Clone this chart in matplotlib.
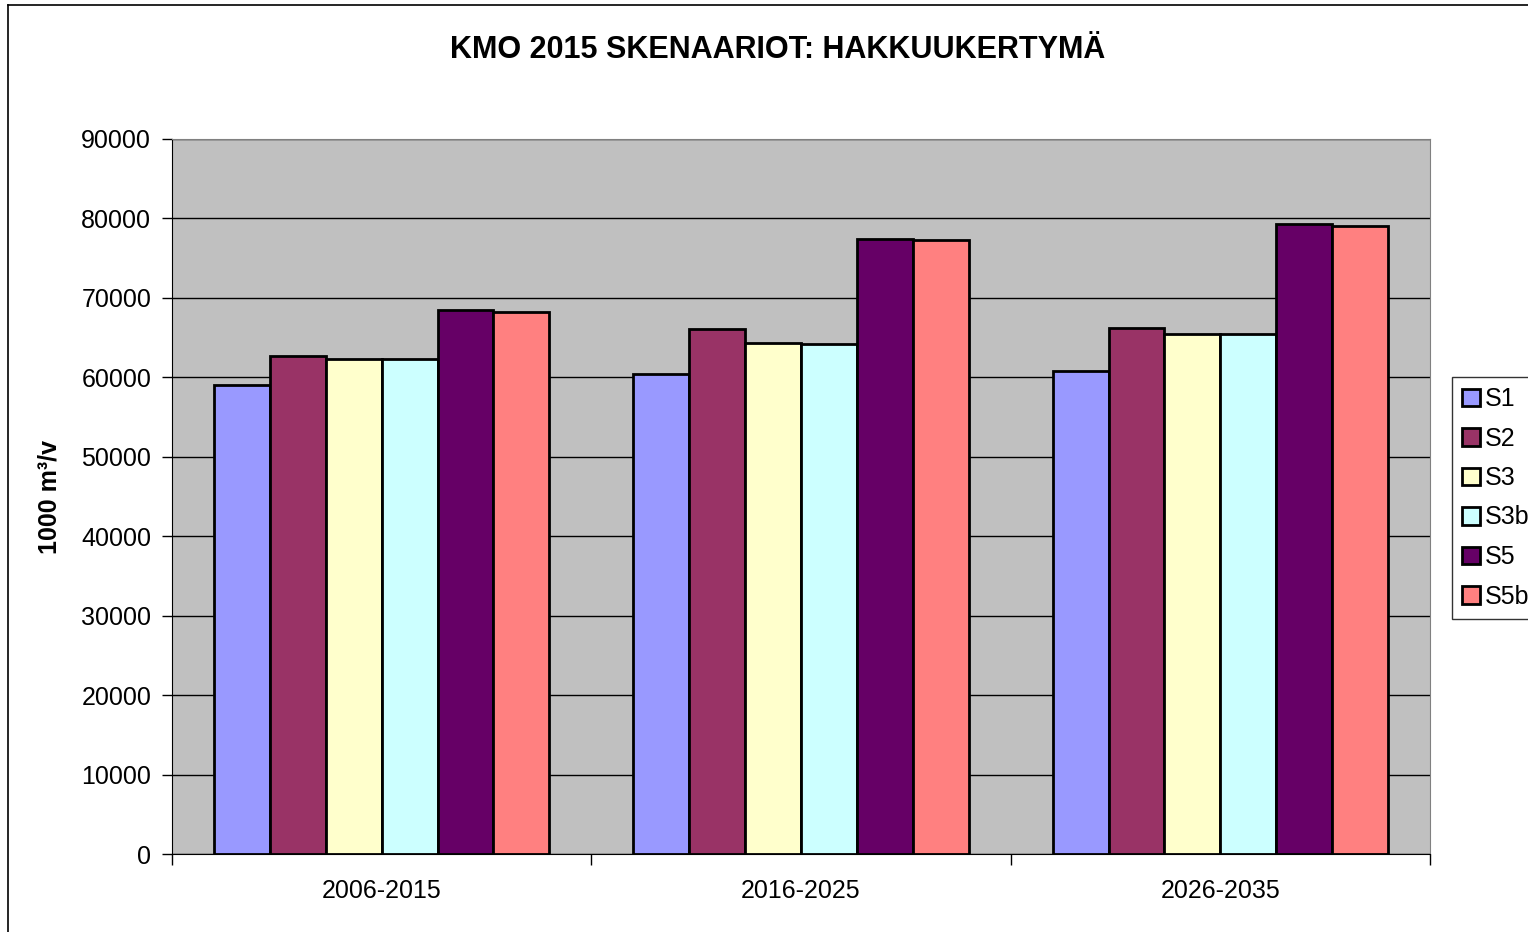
import matplotlib.pyplot as plt
from matplotlib.lines import Line2D
import numpy as np

plt.rcParams['font.family'] = ['Liberation Sans', 'DejaVu Sans']

periods = ["2006-2015", "2016-2025", "2026-2035"]
series = ["S1", "S2", "S3", "S3b", "S5", "S5b"]
s1 = [59000, 60400, 60850]
s2 = [62700, 66100, 66200]
s3 = [62300, 64350, 65500]
s3b = [62250, 64250, 65400]
s5 = [68450, 77350, 79250]
s5b = [68250, 77250, 79100]
colors = ["#9999FF", "#993366", "#FFFFCC", "#CCFFFF", "#660066", "#FF8080"]

values = [s1, s2, s3, s3b, s5, s5b]

fig = plt.figure(figsize=(15.28, 9.32), dpi=100)
ax = fig.add_axes([172 / 1528, 78 / 932, 1258 / 1528, 715 / 932])
ax.set_facecolor("#C0C0C0")

x = np.arange(len(periods))
width = 0.8 / len(series)
for i, (name, vals) in enumerate(zip(series, values)):
    ax.bar(x - 0.4 + width * (i + 0.5), vals, width, color=colors[i],
           edgecolor="black", linewidth=2, label=name, zorder=3)

ax.set_ylim(0, 90000)
ax.set_xlim(-0.5, 2.5)
ax.set_yticks(np.arange(0, 90001, 10000))
ax.yaxis.grid(True, color="black", linewidth=1, zorder=0)
ax.set_axisbelow(True)

ax.set_xticks(x)
ax.set_xticklabels(periods)
ax.set_xticks(np.arange(-0.5, 2.6, 1), minor=True)
ax.tick_params(axis="x", which="major", length=0, pad=18, labelsize=18)
ax.tick_params(axis="x", which="minor", length=8, width=1, direction="out")
ax.tick_params(axis="y", length=7, width=1, direction="out", labelsize=18, pad=8)

for side in ["top", "right"]:
    ax.spines[side].set_color("#808080")
for side in ["left", "bottom"]:
    ax.spines[side].set_color("black")

ax.set_ylabel("1000 m³/v", fontsize=18, fontweight="bold", labelpad=14)
fig.suptitle("KMO 2015 SKENAARIOT: HAKKUUKERTYMÄ", x=778 / 1528, y=1 - 50 / 932,
             va="center", fontsize=22, fontweight="bold")

leg = fig.legend(loc="upper left", bbox_to_anchor=(1452 / 1528, 1 - 377 / 932),
                 fontsize=18, frameon=True, fancybox=False, edgecolor="black",
                 handlelength=0.7, handleheight=0.7, handletextpad=0.2,
                 labelspacing=0.62, borderpad=0.4, borderaxespad=0)
leg.get_frame().set_linewidth(1)

# outer chart frame (left and top edges visible)
fig.add_artist(Line2D([8 / 1528, 8 / 1528], [0, 1 - 5 / 932], transform=fig.transFigure,
                      color="black", linewidth=1.2))
fig.add_artist(Line2D([8 / 1528, 1], [1 - 5 / 932, 1 - 5 / 932], transform=fig.transFigure,
                      color="black", linewidth=1.2))

fig.savefig("out.png", dpi=100)
